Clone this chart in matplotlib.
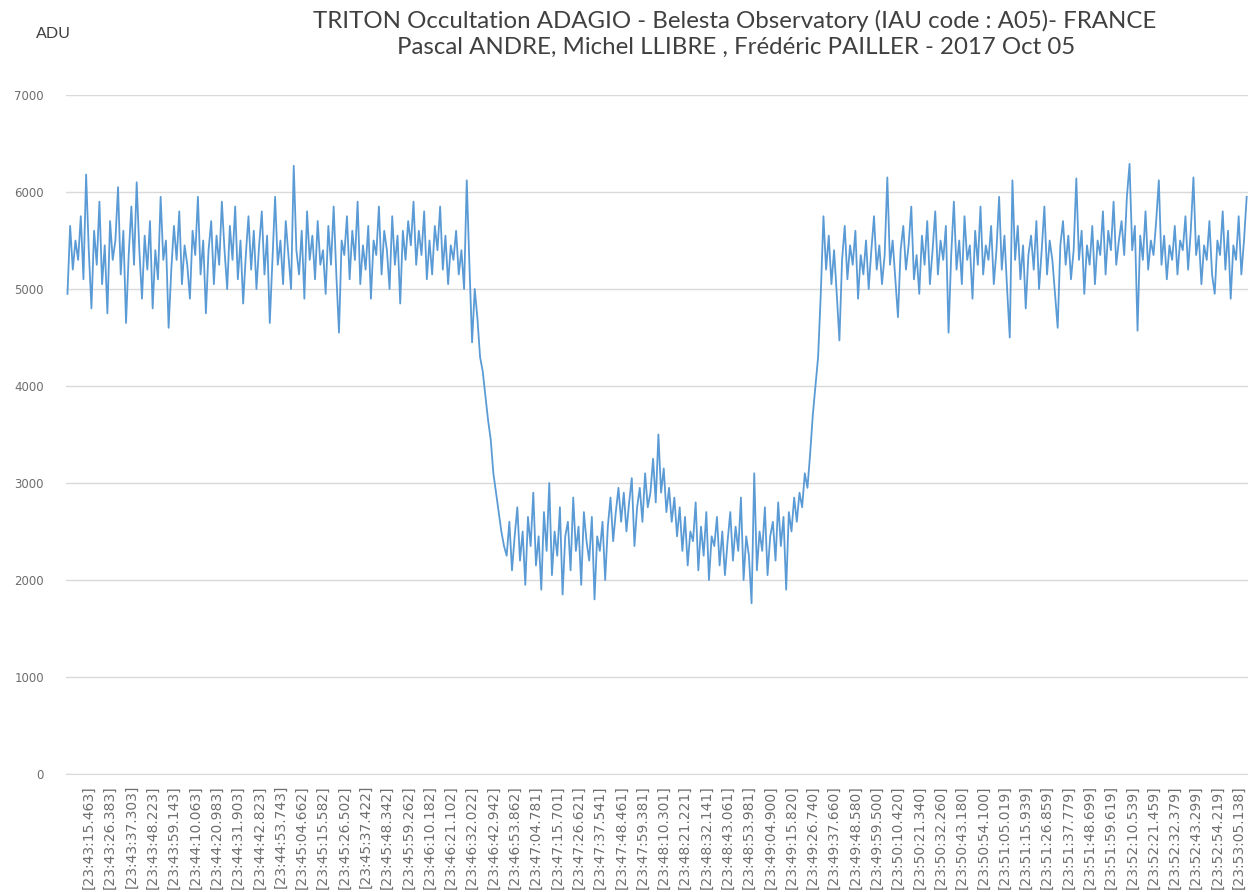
import matplotlib
matplotlib.use("Agg")
import matplotlib.pyplot as plt

# ADU values (one label every 8 points)
plateau_before = [
    4950, 5650, 5200, 5500, 5300, 5750, 5100, 6180,
    5400, 4800, 5600, 5250, 5900, 5050, 5450, 4750,
    5700, 5300, 5500, 6050, 5150, 5600, 4650, 5350,
    5850, 5250, 6100, 5400, 4900, 5550, 5200, 5700,
    4800, 5400, 5100, 5950, 5300, 5500, 4600, 5200,
    5650, 5300, 5800, 5050, 5450, 5250, 4900, 5600,
    5350, 5950, 5150, 5500, 4750, 5400, 5700, 5050,
    5550, 5250, 5900, 5400, 5000, 5650, 5300, 5850,
    5100, 5500, 4850, 5350, 5750, 5200, 5600, 5000,
    5450, 5800, 5150, 5550, 4650, 5300, 5950, 5250,
    5500, 5050, 5700, 5350, 5000, 6270, 5400, 5150,
    5600, 4900, 5800, 5300, 5550, 5100, 5700, 5250,
    5400, 4950, 5650, 5250, 5850, 5150, 4550, 5500,
    5350, 5750, 5100, 5600, 5300, 5900, 5050, 5450,
    5200, 5650, 4900, 5500, 5350, 5850, 5150, 5600,
    5400, 5000, 5750, 5250, 5550, 4850, 5600, 5300,
    5700, 5450, 5900, 5250, 5600, 5350, 5800, 5100,
    5500, 5150, 5650, 5400, 5850, 5200, 5550, 5050,
    5450, 5300, 5600, 5150, 5400, 5000, 6120, 5250,
]
ingress = [4450, 5000, 4700, 4300, 4150, 3900, 3650, 3450, 3100, 2900, 2700, 2500, 2350]
bottom_1 = [
    2250, 2600, 2100, 2450, 2750, 2200, 2500, 1950, 2650, 2350,
    2900, 2150, 2450, 1900, 2700, 2300, 3000, 2050, 2500, 2250,
    2750, 1850, 2450, 2600, 2100, 2850, 2300, 2550, 1950, 2700,
    2400, 2200, 2650, 1800, 2450, 2300, 2600, 2000, 2550, 2850,
    2400, 2700, 2950,
]
central_flash = [2600, 2900, 2500, 2800, 3050, 2350, 2750, 2950, 2600, 3100, 2750, 2900,
                 3250, 2800, 3500, 2900, 3150, 2700, 2950, 2600, 2850, 2450, 2750]
bottom_2 = [
    2300, 2650, 2150, 2500, 2400, 2800, 2100, 2550, 2250, 2700,
    2000, 2450, 2350, 2650, 2150, 2500, 2050, 2400, 2700, 2200,
    2550, 2300, 2850, 2000, 2450, 2250, 1760, 3100, 2100, 2500,
    2300, 2750, 2050, 2450, 2600, 2200, 2800, 2350, 2650, 1900,
    2700, 2500, 2850, 2600,
]
egress = [2900, 2750, 3100, 2950, 3300, 3700, 4000, 4300, 4950, 5750]
plateau_after = [
    5200, 5550, 5050, 5400, 4950, 4470, 5300, 5650, 5100, 5450,
    5250, 5600, 4900, 5350, 5150, 5500, 5000, 5400, 5750, 5200,
    5450, 5050, 5350, 6150, 5250, 5500, 5100, 4710, 5400, 5650,
    5200, 5450, 5850, 5100, 5350, 4950, 5550, 5250, 5700, 5050,
    5400, 5800, 5150, 5500, 5300, 5650, 4550, 5350, 5900, 5200,
    5500, 5050, 5750, 5300, 5450, 4900, 5600, 5250, 5850, 5150,
    5450, 5300, 5650, 5050, 5400, 5950, 5200, 5550, 5000, 4500,
    6120, 5300, 5650, 5100, 5450, 4800, 5350, 5550, 5200, 5700,
    5000, 5400, 5850, 5150, 5500, 5300, 4950, 4600, 5450, 5700,
    5250, 5550, 5100, 5400, 6140, 5300, 5600, 4950, 5450, 5250,
    5650, 5050, 5500, 5350, 5800, 5150, 5600, 5400, 5900, 5250,
    5500, 5700, 5350, 5950, 6290, 5400, 5650, 4570, 5550, 5300,
    5800, 5200, 5500, 5350, 5700, 6120, 5250, 5550, 5100, 5450,
    5300, 5650, 5150, 5500, 5400, 5750, 5200, 5600, 6150, 5350,
    5550, 5050, 5450, 5300, 5700, 5150, 4950, 5500, 5350, 5800,
    5200, 5600, 4900, 5450, 5300, 5750, 5150, 5500, 5950,
]

time_labels = [
    "[23:43:15.463]", "[23:43:26.383]", "[23:43:37.303]", "[23:43:48.223]", "[23:43:59.143]",
    "[23:44:10.063]", "[23:44:20.983]", "[23:44:31.903]", "[23:44:42.823]", "[23:44:53.743]",
    "[23:45:04.662]", "[23:45:15.582]", "[23:45:26.502]", "[23:45:37.422]", "[23:45:48.342]",
    "[23:45:59.262]", "[23:46:10.182]", "[23:46:21.102]", "[23:46:32.022]", "[23:46:42.942]",
    "[23:46:53.862]", "[23:47:04.781]", "[23:47:15.701]", "[23:47:26.621]", "[23:47:37.541]",
    "[23:47:48.461]", "[23:47:59.381]", "[23:48:10.301]", "[23:48:21.221]", "[23:48:32.141]",
    "[23:48:43.061]", "[23:48:53.981]", "[23:49:04.900]", "[23:49:15.820]", "[23:49:26.740]",
    "[23:49:37.660]", "[23:49:48.580]", "[23:49:59.500]", "[23:50:10.420]", "[23:50:21.340]",
    "[23:50:32.260]", "[23:50:43.180]", "[23:50:54.100]", "[23:51:05.019]", "[23:51:15.939]",
    "[23:51:26.859]", "[23:51:37.779]", "[23:51:48.699]", "[23:51:59.619]", "[23:52:10.539]",
    "[23:52:21.459]", "[23:52:32.379]", "[23:52:43.299]", "[23:52:54.219]", "[23:53:05.138]",
]

adu = plateau_before + ingress + bottom_1 + central_flash + bottom_2 + egress + plateau_after
idx = list(range(len(adu)))
label_pos = [8 + 8 * k for k in range(len(time_labels))]

fig = plt.figure(figsize=(12.48, 8.92), dpi=100)
ax = fig.add_axes([0.053, 0.1323, 0.947, 0.7612])

ax.plot(idx, adu, color="#5B9BD5", linewidth=1.3)

ax.set_ylim(0, 7000)
ax.set_xlim(-0.5, len(adu) - 0.5)
ax.set_yticks(range(0, 7001, 1000))
ax.grid(axis="y", color="#D9D9D9", linewidth=1.0)
ax.set_axisbelow(True)
for s in ["top", "right", "left"]:
    ax.spines[s].set_visible(False)
ax.spines["bottom"].set_color("#D9D9D9")

ax.set_xticks(label_pos)
ax.set_xticklabels(time_labels, rotation=90, fontsize=10, color="#6E6E6E")
ax.tick_params(axis="x", length=0, pad=8)
ax.tick_params(axis="y", length=0, labelsize=8.5, labelcolor="#6E6E6E", pad=16)

fig.text(0.589, 0.977, "TRITON Occultation ADAGIO - Belesta Observatory (IAU code : A05)- FRANCE",
         ha="center", va="center", fontsize=17.3, color="#404040", family="Lato")
fig.text(0.590, 0.947, "Pascal ANDRE, Michel LLIBRE , Frédéric PAILLER - 2017 Oct 05",
         ha="center", va="center", fontsize=17.3, color="#404040", family="Lato")
fig.text(0.043, 0.962, "ADU", ha="center", va="center", fontsize=11.5, color="#404040", family="Lato")

fig.savefig("out.png", dpi=100)
